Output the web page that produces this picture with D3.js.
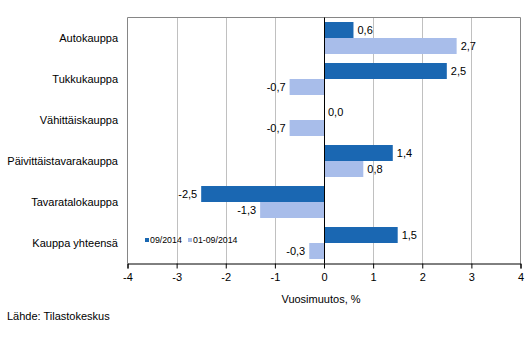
<!DOCTYPE html>
<html><head><meta charset="utf-8">
<script src="https://cdn.jsdelivr.net/npm/d3@7"></script>
<style>body{margin:0;background:#fff}svg{display:block;font-family:Arial,"Liberation Sans",sans-serif}</style>
</head><body><svg id="c" width="532" height="358"></svg>
<script>
const categories = ["Autokauppa","Tukkukauppa","Vähittäiskauppa","Päivittäistavarakauppa","Tavaratalokauppa","Kauppa yhteensä"];
const seriesNames = ["09/2014","01-09/2014"];
const s1 = [0.6, 2.5, 0.0, 1.4, -2.5, 1.5];
const s2 = [2.7, -0.7, -0.7, 0.8, -1.3, -0.3];
const ticks = [-4,-3,-2,-1,0,1,2,3,4];
const colors = ["#1a67b2","#a8bdea"];

const svg = d3.select("#c");
const L=127.5, R=520.5, T=17.5, B=263.5;
const x = d3.scaleLinear().domain([-4,4]).range([L,R]);
const y = d3.scaleBand().domain(categories).range([T,B]).paddingInner(0.22).paddingOuter(0.11);
const y2 = d3.scaleBand().domain([0,1]).range([0,y.bandwidth()]);
const fmt = v => d3.format(".1f")(v).replace(".",",").replace("\u2212","-");

// grid
svg.append("g").selectAll("line").data(ticks.slice(1,-1)).join("line")
  .attr("x1",d=>Math.round(x(d))+0.5).attr("x2",d=>Math.round(x(d))+0.5).attr("y1",T).attr("y2",B)
  .attr("stroke","#c0c0c0");
// frame
svg.append("path").attr("d",`M${L},${B}V${T}H${R}V${B}`).attr("fill","none").attr("stroke","#868686");

const data = [s1,s2];
data.forEach((s,si)=>{
  const g = svg.append("g");
  g.selectAll("rect").data(s).join("rect")
    .attr("x",d=>x(Math.min(0,d))).attr("width",d=>Math.abs(x(d)-x(0)))
    .attr("y",(d,i)=>y(categories[i])+y2(si)).attr("height",y2.bandwidth())
    .attr("fill",colors[si]);
  g.selectAll("text").data(s).join("text")
    .attr("x",d=> d<0 ? x(d)-4 : x(d)+4)
    .attr("y",(d,i)=>y(categories[i])+y2(si)+y2.bandwidth()/2+4)
    .attr("text-anchor",d=>d<0?"end":"start")
    .attr("font-size",11).attr("fill","#000").text(d=>fmt(d));
});

// zero line
svg.append("line").attr("x1",Math.round(x(0))+0.5).attr("x2",Math.round(x(0))+0.5).attr("y1",T).attr("y2",B).attr("stroke","#000");

// category labels
svg.append("g").selectAll("text").data(categories).join("text")
  .attr("x",118).attr("y",d=>y(d)+y.bandwidth()/2+4).attr("text-anchor","end")
  .attr("font-size",11).text(d=>d);

// x axis
const ax = svg.append("g").attr("transform",`translate(0,${B})`)
  .call(d3.axisBottom(x).tickValues(ticks).tickSize(5).tickFormat(d=>String(d)));
ax.select(".domain").attr("stroke","#000");
ax.selectAll(".tick line").attr("stroke","#000");
ax.selectAll(".tick text").attr("font-size",11).attr("font-family","Arial,'Liberation Sans',sans-serif").attr("fill","#000").attr("dy","0.9em");

svg.append("text").attr("x",x(0)-3).attr("y",303).attr("text-anchor","middle").attr("font-size",11).text("Vuosimuutos, %");
svg.append("text").attr("x",7).attr("y",320).attr("font-size",11).text("Lähde: Tilastokeskus");

// legend
const lg = svg.append("g");
const lx=[145,188];
seriesNames.forEach((n,i)=>{
  lg.append("rect").attr("x",lx[i]).attr("y",238).attr("width",4).attr("height",4).attr("fill",colors[i]);
  lg.append("text").attr("x",lx[i]+5).attr("y",243).attr("font-size",8.8).text(n);
});
</script></body></html>
